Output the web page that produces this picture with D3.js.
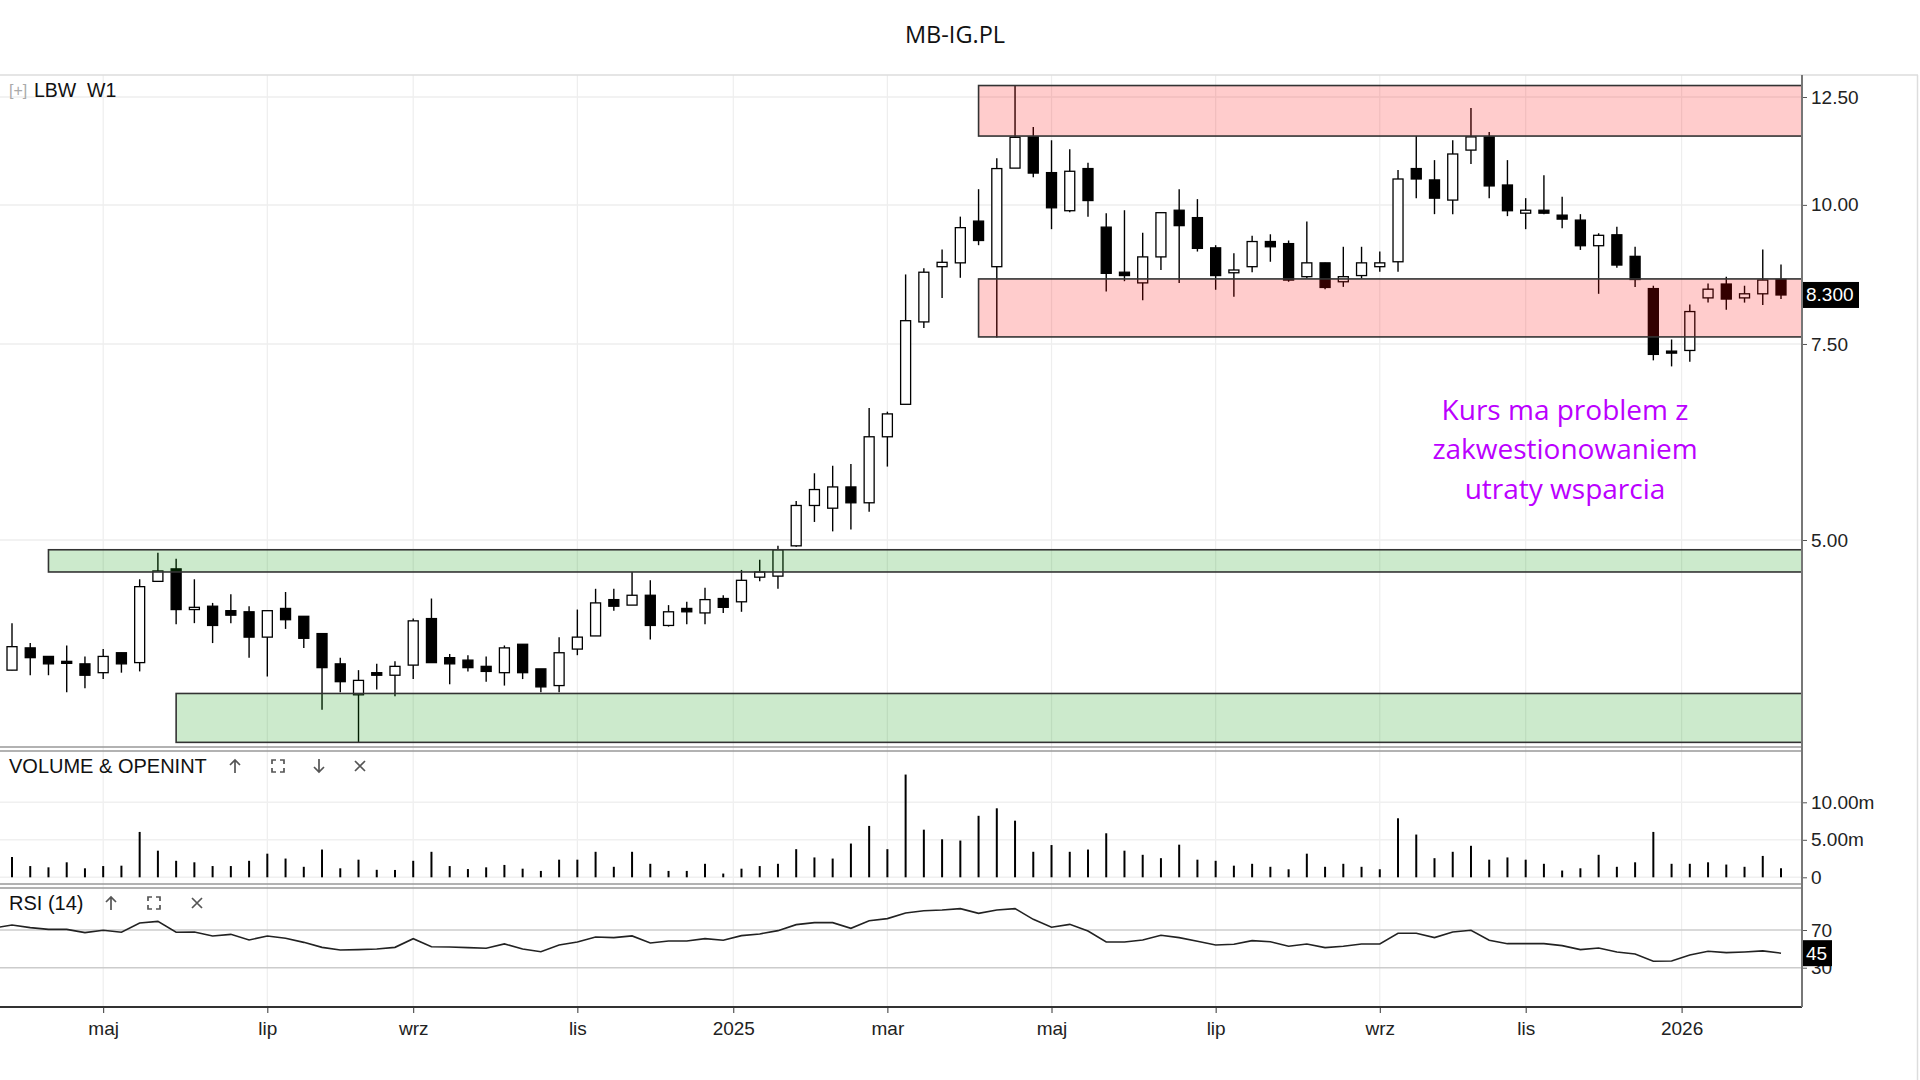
<!DOCTYPE html>
<html>
<head>
<meta charset="utf-8">
<title>MB-IG.PL</title>
<script src="https://cdn.jsdelivr.net/npm/d3@7"></script>
<style>
    body { margin: 0; background: #fff; }
    svg { display: block; }
</style>
</head>
<body>
<svg id="chart" width="1920" height="1080"></svg>
<script>
// Weekly candles, LBW W1 (one entry per week, oldest first)
const openPrices = [3.82, 4.00, 3.93, 3.89, 3.87, 3.80, 3.96, 3.88, 4.59, 4.71,
    4.33, 4.36, 4.32, 4.31, 4.09, 4.34, 4.27, 4.12, 3.87, 3.63,
    3.80, 3.78, 3.86, 4.25, 3.92, 3.90, 3.85, 3.80, 4.03, 3.83,
    3.70, 3.99, 4.10, 4.42, 4.37, 4.46, 4.19, 4.34, 4.30, 4.43,
    4.40, 4.63, 4.64, 4.94, 5.37, 5.34, 5.58, 5.40, 6.19, 6.62,
    7.85, 8.80, 8.87, 9.67, 8.80, 10.79, 11.51, 10.69, 9.88, 10.78,
    9.55, 8.70, 8.51, 8.98, 9.89, 9.74, 9.15, 8.69, 8.80, 9.27,
    9.23, 8.62, 8.87, 8.53, 8.64, 8.80, 8.89, 10.78, 10.53, 10.10,
    11.20, 11.51, 10.42, 9.83, 9.89, 9.79, 9.69, 9.19, 9.40, 8.99,
    8.41, 7.39, 7.40, 8.25, 8.49, 8.25, 8.32, 8.57];
const highPrices = [4.21, 4.04, 3.93, 4.02, 3.93, 3.99, 3.96, 4.61, 4.87, 4.81,
    4.61, 4.39, 4.47, 4.36, 4.32, 4.49, 4.27, 4.12, 3.92, 3.82,
    3.87, 3.89, 4.25, 4.43, 3.95, 3.94, 3.93, 4.02, 4.03, 3.83,
    4.09, 4.33, 4.52, 4.52, 4.68, 4.60, 4.37, 4.40, 4.53, 4.46,
    4.70, 4.80, 4.94, 5.42, 5.74, 5.83, 5.85, 6.57, 6.52, 8.66,
    8.77, 9.12, 9.76, 10.33, 11.01, 12.81, 11.75, 11.43, 11.22, 10.91,
    9.83, 9.89, 9.44, 9.84, 10.33, 10.12, 9.20, 9.05, 9.38, 9.41,
    9.29, 9.66, 8.87, 9.17, 9.17, 9.08, 10.75, 11.53, 10.97, 11.43,
    12.22, 11.63, 10.97, 10.14, 10.63, 10.17, 9.81, 9.43, 9.56, 9.17,
    8.46, 7.57, 8.14, 8.50, 8.62, 8.46, 9.12, 8.84];
const lowPrices = [3.82, 3.78, 3.78, 3.65, 3.68, 3.75, 3.80, 3.81, 4.59, 4.20,
    4.21, 4.04, 4.21, 3.92, 3.77, 4.16, 4.00, 3.52, 3.65, 3.29,
    3.67, 3.62, 3.75, 3.88, 3.71, 3.81, 3.73, 3.70, 3.75, 3.65,
    3.65, 3.94, 4.10, 4.32, 4.37, 4.07, 4.18, 4.20, 4.20, 4.30,
    4.31, 4.59, 4.52, 4.93, 5.19, 5.09, 5.11, 5.30, 5.82, 6.62,
    7.75, 8.25, 8.60, 9.20, 7.60, 10.79, 10.59, 9.51, 9.85, 9.76,
    8.36, 8.54, 8.21, 8.74, 8.51, 9.08, 8.39, 8.27, 8.70, 8.89,
    8.53, 8.59, 8.40, 8.44, 8.59, 8.71, 8.71, 10.14, 9.81, 9.81,
    10.88, 10.14, 9.77, 9.51, 9.81, 9.53, 9.11, 8.32, 8.78, 8.44,
    7.25, 7.16, 7.23, 8.17, 8.05, 8.17, 8.13, 8.23];
const closePrices = [4.01, 3.92, 3.87, 3.88, 3.78, 3.93, 3.87, 4.54, 4.69, 4.33,
    4.35, 4.19, 4.28, 4.09, 4.32, 4.24, 4.08, 3.84, 3.73, 3.74,
    3.78, 3.85, 4.23, 3.88, 3.87, 3.84, 3.81, 4.00, 3.80, 3.69,
    3.96, 4.09, 4.39, 4.36, 4.46, 4.19, 4.31, 4.31, 4.42, 4.35,
    4.60, 4.68, 4.90, 5.37, 5.55, 5.58, 5.40, 6.19, 6.49, 7.87,
    8.70, 8.88, 9.54, 9.29, 10.78, 11.50, 10.68, 9.94, 10.72, 10.09,
    8.68, 8.64, 8.98, 9.84, 9.58, 9.14, 8.64, 8.74, 9.27, 9.17,
    8.56, 8.87, 8.43, 8.62, 8.87, 8.87, 10.55, 10.55, 10.14, 11.11,
    11.51, 10.40, 9.88, 9.89, 9.83, 9.71, 9.19, 9.39, 8.83, 8.57,
    7.34, 7.38, 8.02, 8.40, 8.23, 8.32, 8.56, 8.30];

// Weekly volume, millions
const volumes = [2.7, 1.5, 1.33, 2.0, 1.2, 1.5, 1.55, 6.05, 3.55, 2.2,
    2.0, 1.5, 1.5, 2.2, 3.15, 2.5, 1.4, 3.7, 1.2, 2.35,
    1.0, 0.98, 2.2, 3.4, 1.5, 1.1, 1.33, 1.65, 1.15, 0.85,
    2.35, 2.35, 3.4, 1.4, 3.4, 1.8, 0.85, 0.85, 1.8, 0.5,
    1.15, 1.5, 1.8, 3.75, 2.65, 2.5, 4.5, 6.85, 3.75, 13.7,
    6.35, 5.07, 4.9, 8.2, 9.2, 7.55, 3.4, 4.3, 3.4, 3.7,
    5.87, 3.55, 3.0, 2.55, 4.35, 2.35, 2.2, 1.55, 1.8, 1.4,
    1.07, 3.15, 1.4, 1.8, 1.4, 1.07, 7.87, 5.7, 2.55, 3.4,
    4.2, 2.35, 2.65, 2.35, 1.8, 0.9, 1.2, 3.0, 1.4, 2.0,
    6.05, 1.8, 1.8, 2.0, 1.7, 1.4, 2.85, 1.2];

// RSI (14); the first value belongs to the week before the first visible candle
const rsiValues = [72.0, 75.3, 72.5, 70.7, 70.7, 67.2, 69.7, 67.6, 77.5, 79.2, 67.6,
    67.9, 63.7, 65.4, 59.4, 63.7, 61.2, 56.9, 51.6, 48.8, 49.2,
    49.9, 51.6, 60.8, 52.3, 52.0, 51.3, 50.6, 55.2, 49.9, 47.0,
    54.1, 57.3, 62.6, 61.9, 63.7, 56.2, 58.4, 58.4, 60.8, 59.1,
    64.0, 65.8, 69.3, 75.7, 77.8, 77.8, 71.8, 79.9, 82.1, 88.1,
    90.5, 91.2, 92.7, 87.7, 91.2, 92.7, 81.3, 72.9, 76.0, 69.0,
    57.3, 57.3, 59.4, 64.4, 61.9, 58.0, 54.1, 54.8, 58.7, 57.6,
    52.7, 55.2, 51.3, 52.7, 55.2, 55.2, 66.5, 66.5, 61.9, 67.9,
    69.7, 59.1, 55.5, 55.5, 55.5, 53.4, 49.2, 50.9, 46.7, 44.6,
    36.8, 37.1, 43.5, 47.4, 46.0, 46.7, 47.8, 45.4];
const rsiFirstWeek = -1;

// Month labels and the week index where each one sits
const monthLabels = ['maj', 'lip', 'wrz', 'lis', '2025', 'mar', 'maj', 'lip', 'wrz', 'lis', '2026'];
const monthTickPos = [5, 14, 22, 31, 39.55, 48, 57, 66, 75, 83, 91.55];

const priceTicks = [5, 7.5, 10, 12.5];
const volumeTicks = [0, 5, 10];
const rsiTicks = [30, 70];

// Marked zones: first week, lower and upper price, kind
const zoneStart = [53, 53, 2, 9];
const zoneLow = [11.53, 7.61, 4.68, 3.29];
const zoneHigh = [12.80, 8.58, 4.90, 3.64];
const zoneKind = ['resistance', 'resistance', 'support', 'support'];

const noteLines = ['Kurs ma problem z', 'zakwestionowaniem', 'utraty wsparcia'];

const AXIS_FONT = '"Liberation Sans", Arial, sans-serif';
const plotRight = 1802;
const mainTop = 75, mainBottom = 747;
const volTop = 751, volBottom = 884;
const rsiTop = 888, rsiBottom = 1007;

const svg = d3.select('#chart');

const x = d3.scaleLinear().domain([0, openPrices.length - 1]).range([12, 1781]);
const yPrice = d3.scaleLog().domain([12.5, 5]).range([97, 540]);
const yVol = d3.scaleLinear().domain([0, 10]).range([877.3, 802.3]);
const yRsi = d3.scaleLinear().domain([30, 70]).range([967.7, 930]);

/**
 * Draws the light vertical month grid and the bottom month axis.
 */
function drawTimeAxis() {
    const grid = svg.append('g');
    grid.selectAll('line')
        .data(monthTickPos)
        .enter().append('line')
        .attr('x1', d => x(d)).attr('x2', d => x(d))
        .attr('y1', mainTop).attr('y2', rsiBottom)
        .attr('stroke', '#eeeeee').attr('stroke-width', 1.2);

    const axis = d3.axisBottom(x)
        .tickValues(monthTickPos)
        .tickFormat((d, i) => monthLabels[i])
        .tickSize(6)
        .tickPadding(9);

    const g = svg.append('g')
        .attr('transform', `translate(0,${rsiBottom})`)
        .call(axis);
    g.select('.domain').remove();
    g.selectAll('line').attr('stroke', '#333');
    g.selectAll('text')
        .attr('font-family', AXIS_FONT)
        .attr('font-size', 19)
        .attr('fill', '#222');

    svg.append('line')
        .attr('x1', 0).attr('x2', plotRight)
        .attr('y1', rsiBottom).attr('y2', rsiBottom)
        .attr('stroke', '#333').attr('stroke-width', 2);
}

/**
 * Draws a right-hand value axis for one panel.
 */
function drawRightAxis(scale, ticks, format, gridFrom, gridTo, gridColor) {
    const g = svg.append('g');
    if (gridColor) {
        g.selectAll('line.grid')
            .data(ticks)
            .enter().append('line')
            .attr('class', 'grid')
            .attr('x1', gridFrom).attr('x2', gridTo)
            .attr('y1', d => scale(d)).attr('y2', d => scale(d))
            .attr('stroke', gridColor).attr('stroke-width', 1.5);
    }
    const axis = d3.axisRight(scale)
        .tickValues(ticks)
        .tickFormat(format)
        .tickSize(5)
        .tickPadding(4);
    const a = svg.append('g')
        .attr('transform', `translate(${plotRight},0)`)
        .call(axis);
    a.select('.domain').remove();
    a.selectAll('line').attr('stroke', '#555');
    a.selectAll('text')
        .attr('font-family', AXIS_FONT)
        .attr('font-size', 19)
        .attr('fill', '#222');
}

/**
 * Draws the candlesticks of the main panel.
 */
function drawCandles() {
    const data = openPrices.map((o, i) => ({
        i: i, o: o, h: highPrices[i], l: lowPrices[i], c: closePrices[i]
    }));
    const g = svg.append('g');

    g.selectAll('line.wick')
        .data(data)
        .enter().append('line')
        .attr('class', 'wick')
        .attr('x1', d => x(d.i)).attr('x2', d => x(d.i))
        .attr('y1', d => yPrice(d.h)).attr('y2', d => yPrice(d.l))
        .attr('stroke', '#000').attr('stroke-width', 1.4);

    const bodyW = 10;
    g.selectAll('rect.body')
        .data(data)
        .enter().append('rect')
        .attr('class', 'body')
        .attr('x', d => x(d.i) - bodyW / 2)
        .attr('width', bodyW)
        .attr('y', d => yPrice(Math.max(d.o, d.c)))
        .attr('height', d => Math.max(2, Math.abs(yPrice(d.o) - yPrice(d.c))))
        .attr('fill', d => d.c >= d.o ? '#fff' : '#000')
        .attr('stroke', '#000').attr('stroke-width', 1.3);
}

/**
 * Draws the support / resistance zones over the candles.
 */
function drawZones() {
    const fills = { resistance: 'rgba(255,0,0,0.2)', support: 'rgba(0,150,0,0.2)' };
    svg.append('g').selectAll('rect')
        .data(zoneStart.map((s, i) => ({ s: s, lo: zoneLow[i], hi: zoneHigh[i], kind: zoneKind[i] })))
        .enter().append('rect')
        .attr('x', d => x(d.s))
        .attr('width', d => plotRight - x(d.s))
        .attr('y', d => yPrice(d.hi))
        .attr('height', d => yPrice(d.lo) - yPrice(d.hi))
        .attr('fill', d => fills[d.kind])
        .attr('stroke', '#333').attr('stroke-width', 1.6);
}

/**
 * Draws the volume bars.
 */
function drawVolume() {
    svg.append('g').selectAll('line')
        .data(volumes)
        .enter().append('line')
        .attr('x1', (d, i) => x(i)).attr('x2', (d, i) => x(i))
        .attr('y1', yVol(0)).attr('y2', d => yVol(d))
        .attr('stroke', '#000').attr('stroke-width', 2);
}

/**
 * Draws the RSI line, clipped to the plot area.
 */
function drawRsi() {
    svg.append('clipPath').attr('id', 'rsi-clip')
        .append('rect')
        .attr('x', 0).attr('y', rsiTop)
        .attr('width', plotRight).attr('height', rsiBottom - rsiTop);

    const line = d3.line()
        .x((d, i) => x(i + rsiFirstWeek))
        .y(d => yRsi(d));
    svg.append('path')
        .datum(rsiValues)
        .attr('clip-path', 'url(#rsi-clip)')
        .attr('d', line)
        .attr('fill', 'none')
        .attr('stroke', '#222').attr('stroke-width', 1.6);
}

/**
 * Small black value box on the right axis.
 */
function drawValueTag(y, text, width) {
    svg.append('rect')
        .attr('x', plotRight + 1).attr('y', y - 13)
        .attr('width', width).attr('height', 26)
        .attr('fill', '#000');
    svg.append('text')
        .attr('x', plotRight + 4).attr('y', y)
        .attr('dominant-baseline', 'central')
        .attr('font-family', AXIS_FONT).attr('font-size', 19)
        .attr('fill', '#fff')
        .text(text);
}

/**
 * Panel toolbar icons (up, maximise, down, close).
 */
function drawIcon(kind, cx, cy) {
    const paths = {
        up: `M${cx},${cy + 7}V${cy - 6}M${cx - 5},${cy - 1}L${cx},${cy - 6}L${cx + 5},${cy - 1}`,
        down: `M${cx},${cy - 7}V${cy + 6}M${cx - 5},${cy + 1}L${cx},${cy + 6}L${cx + 5},${cy + 1}`,
        max: `M${cx - 6},${cy - 2}V${cy - 6}H${cx - 2}M${cx + 2},${cy - 6}H${cx + 6}V${cy - 2}` +
             `M${cx + 6},${cy + 2}V${cy + 6}H${cx + 2}M${cx - 2},${cy + 6}H${cx - 6}V${cy + 2}`,
        close: `M${cx - 5},${cy - 5}L${cx + 5},${cy + 5}M${cx + 5},${cy - 5}L${cx - 5},${cy + 5}`
    };
    svg.append('path')
        .attr('d', paths[kind])
        .attr('fill', 'none')
        .attr('stroke', '#555').attr('stroke-width', 1.7);
}

function drawPanelLabel(text, y, icons) {
    svg.append('text')
        .attr('x', 9).attr('y', y)
        .attr('dominant-baseline', 'central')
        .attr('font-family', AXIS_FONT).attr('font-size', 20)
        .attr('fill', '#111')
        .text(text);
    icons.forEach(ic => drawIcon(ic.kind, ic.x, y));
}

function drawFrame() {
    const frame = svg.append('g').attr('fill', 'none');
    frame.append('line').attr('x1', 0).attr('x2', 1918).attr('y1', mainTop).attr('y2', mainTop)
        .attr('stroke', '#dddddd').attr('stroke-width', 1.5);
    frame.append('line').attr('x1', 1917.5).attr('x2', 1917.5).attr('y1', mainTop).attr('y2', 1080)
        .attr('stroke', '#dddddd').attr('stroke-width', 1.5);
    [mainBottom, volTop, volBottom, rsiTop].forEach(y => {
        frame.append('line').attr('x1', 0).attr('x2', plotRight).attr('y1', y).attr('y2', y)
            .attr('stroke', '#999').attr('stroke-width', 1.5);
    });
    frame.append('line').attr('x1', plotRight).attr('x2', plotRight).attr('y1', mainTop).attr('y2', rsiBottom)
        .attr('stroke', '#777').attr('stroke-width', 2);
}

function drawTexts() {
    svg.append('text')
        .attr('x', 955).attr('y', 34)
        .attr('text-anchor', 'middle').attr('dominant-baseline', 'central')
        .attr('font-family', '"Open Sans", sans-serif').attr('font-size', 23.5)
        .attr('fill', '#111')
        .text('MB-IG.PL');

    svg.append('text')
        .attr('x', 9).attr('y', 90)
        .attr('dominant-baseline', 'central')
        .attr('font-family', AXIS_FONT).attr('font-size', 16)
        .attr('fill', '#aaa')
        .text('[+]');
    svg.append('text')
        .attr('x', 34).attr('y', 90)
        .attr('dominant-baseline', 'central')
        .attr('font-family', AXIS_FONT).attr('font-size', 19.5)
        .attr('fill', '#111')
        .attr('xml:space', 'preserve')
        .text('LBW  W1');

    svg.append('g').selectAll('text')
        .data(noteLines)
        .enter().append('text')
        .attr('x', 1565)
        .attr('y', (d, i) => 409 + i * 39.3)
        .attr('text-anchor', 'middle').attr('dominant-baseline', 'central')
        .attr('font-family', '"Open Sans", sans-serif').attr('font-size', 28)
        .attr('fill', '#bb00ff')
        .text(d => d);
}

drawTimeAxis();
drawRightAxis(yPrice, priceTicks, d3.format('.2f'), 0, plotRight, '#eeeeee');
drawRightAxis(yVol, volumeTicks, d => d === 0 ? '0' : d3.format('.2f')(d) + 'm', 0, plotRight, '#f0f0f0');
drawRightAxis(yRsi, rsiTicks, d3.format('d'), 0, plotRight, '#cccccc');
drawCandles();
drawZones();
drawVolume();
drawRsi();
drawFrame();
drawPanelLabel('VOLUME & OPENINT', 766, [
    { kind: 'up', x: 235 }, { kind: 'max', x: 278 }, { kind: 'down', x: 319 }, { kind: 'close', x: 360 }
]);
drawPanelLabel('RSI (14)', 903, [
    { kind: 'up', x: 111 }, { kind: 'max', x: 154 }, { kind: 'close', x: 197 }
]);
drawValueTag(yPrice(closePrices[closePrices.length - 1]), d3.format('.3f')(closePrices[closePrices.length - 1]), 56);
drawValueTag(yRsi(rsiValues[rsiValues.length - 1]), d3.format('d')(Math.round(rsiValues[rsiValues.length - 1])), 29);
drawTexts();
</script>
</body>
</html>
